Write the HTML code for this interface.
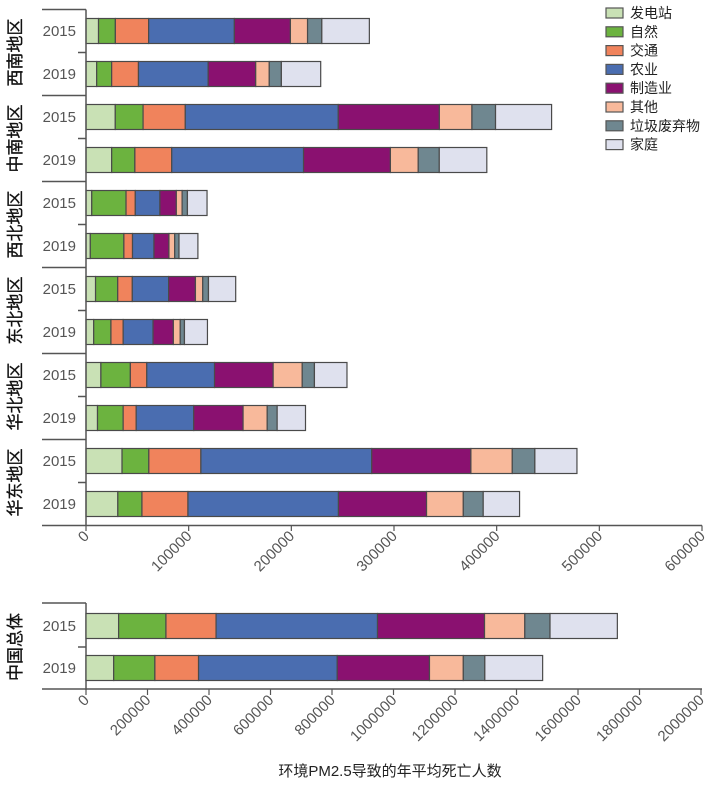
<!DOCTYPE html>
<html><head><meta charset="utf-8">
<style>
html,body{margin:0;padding:0;background:#fff;}
svg{display:block;font-family:"Liberation Sans","Noto Sans CJK SC",sans-serif;}
</style></head>
<body>
<svg id="chart" width="720" height="785" viewBox="0 0 720 785" xmlns="http://www.w3.org/2000/svg"></svg>
<script>
const sources = ["发电站","自然","交通","农业","制造业","其他","垃圾废弃物","家庭"];
const colors = ["#c9e1b5","#6cb33f","#f0835c","#4a6db0","#8a1170","#f8b99b","#6f8790","#dfe1ee"];
const regions = ["西南地区","中南地区","西北地区","东北地区","华北地区","华东地区"];
const years = ["2015","2019"];
const regionValues = [
 [[12200,16400,32400,83500,54600,16700,13900,46300],[10400,14600,26100,67900,46300,13200,11800,38300]],
 [[28500,27100,41100,149000,98500,31700,23000,54600],[25000,22600,35900,128400,84600,27100,20500,46300]],
 [[5600,33400,9000,24000,16000,5600,5200,19100],[4200,32700,8400,20900,14600,5600,4200,18400]],
 [[9300,21600,14200,35400,26100,7100,5600,26500],[7500,16800,11900,29100,19800,6700,4100,22400]],
 [[14500,28700,16000,66000,57100,28300,11900,31700],[11200,25000,12700,56000,48100,23500,9700,27600]],
 [[35100,26100,50700,166400,96600,40300,22000,41000],[31000,23500,44800,146600,85800,35800,19400,35400]]
];
const chinaLabel = "中国总体";
const chinaValues = [
 [106000,154000,163000,525000,348000,131000,82000,219000],
 [90000,134000,142000,451000,300000,110000,70000,188000]
];
const topTicks = [0,100000,200000,300000,400000,500000,600000];
const bottomTicks = [0,200000,400000,600000,800000,1000000,1200000,1400000,1600000,1800000,2000000];
const xTitle = "环境PM2.5导致的年平均死亡人数";

const svgEl = document.getElementById('chart');
const NS = "http://www.w3.org/2000/svg";
function mk(tag, attrs, parent){
  const e = document.createElementNS(NS, tag);
  for (const k in attrs) e.setAttribute(k, attrs[k]);
  (parent||svgEl).appendChild(e);
  return e;
}
const X0 = 86;
const xTop = v => X0 + v / 600000 * 616;
const xBot = v => X0 + v / 2000000 * 615;
const axisColor = "#555";

function drawBar(vals, yc, h, xf, g){
  let cum = 0;
  vals.forEach((v,i)=>{
    const r = mk('rect',{x:xf(cum),y:yc-h/2,width:xf(cum+v)-xf(cum),height:h,fill:colors[i],stroke:"#4a4a4a","stroke-width":1.2},g);
    
    
    cum += v;
  });
}

const topPanel = mk('g',{});


const rowY = i => 31 + 43*i;
regions.forEach((reg,gi)=>{
  const gTop = rowY(2*gi) - 21.5;
  mk('line',{x1:42,x2:X0,y1:gTop,y2:gTop,stroke:axisColor,"stroke-width":1.5},topPanel);
  const mid = rowY(2*gi)+21.5;
  mk('line',{x1:78,x2:X0,y1:mid,y2:mid,stroke:axisColor,"stroke-width":1.5},topPanel);
  const lab = mk('text',{x:0,y:0,transform:`translate(21,${mid}) rotate(-90)`,"text-anchor":"middle","font-size":17,fill:"#111","stroke":"#111","stroke-width":0.3},topPanel);
  lab.textContent = reg;
  
  
  years.forEach((yr,yi)=>{
    const yc = rowY(2*gi+yi);
    const t = mk('text',{x:76,y:yc+5,"text-anchor":"end","font-size":15,fill:"#555"},topPanel);
    t.textContent = yr;
    
    
    drawBar(regionValues[gi][yi], yc, 25, xTop, topPanel);
  });
});
mk('line',{x1:X0,x2:X0,y1:9.5,y2:526,stroke:axisColor,"stroke-width":1.5},topPanel);
mk('line',{x1:42,x2:702,y1:525.5,y2:525.5,stroke:axisColor,"stroke-width":1.5},topPanel);
topTicks.forEach(t=>{
  const x = xTop(t);
  mk('line',{x1:x,x2:x,y1:525.5,y2:531,stroke:axisColor,"stroke-width":1.2},topPanel);
  const tx = mk('text',{x:0,y:0,transform:`translate(${x+4},537) rotate(-45)`,"text-anchor":"end","font-size":15,fill:"#555"},topPanel);
  tx.textContent = String(t);
  
  
});

const botPanel = mk('g',{});


const bRow = [626, 668];
mk('line',{x1:42,x2:X0,y1:603,y2:603,stroke:axisColor,"stroke-width":1.5},botPanel);
mk('line',{x1:78,x2:X0,y1:647,y2:647,stroke:axisColor,"stroke-width":1.5},botPanel);
mk('line',{x1:X0,x2:X0,y1:603,y2:690,stroke:axisColor,"stroke-width":1.5},botPanel);
mk('line',{x1:42,x2:702,y1:689,y2:689,stroke:axisColor,"stroke-width":1.5},botPanel);
const cl = mk('text',{x:0,y:0,transform:`translate(21,647) rotate(-90)`,"text-anchor":"middle","font-size":17,fill:"#111","stroke":"#111","stroke-width":0.3},botPanel);
cl.textContent = chinaLabel;


years.forEach((yr,yi)=>{
  const t = mk('text',{x:76,y:bRow[yi]+5,"text-anchor":"end","font-size":15,fill:"#555"},botPanel);
  t.textContent = yr;
  
  
  drawBar(chinaValues[yi], bRow[yi], 25, xBot, botPanel);
});
bottomTicks.forEach(t=>{
  const x = xBot(t);
  mk('line',{x1:x,x2:x,y1:689,y2:695,stroke:axisColor,"stroke-width":1.2},botPanel);
  const tx = mk('text',{x:0,y:0,transform:`translate(${x+4},701) rotate(-45)`,"text-anchor":"end","font-size":15,fill:"#555"},botPanel);
  tx.textContent = String(t);
  
  
});
const title = mk('text',{x:390,y:776,"text-anchor":"middle","font-size":15,fill:"#222"});
title.textContent = xTitle;



const leg = mk('g',{});


sources.forEach((s,i)=>{
  const y = 13 + i*18.8;
  const g = mk('g',{},leg);
  
  
  mk('rect',{x:606,y:y-5,width:17,height:10,fill:colors[i],stroke:"#555","stroke-width":1.2},g);
  const t = mk('text',{x:630,y:y+5,"font-size":14,fill:"#222"},g);
  t.textContent = s;
});
</script>
</body></html>
